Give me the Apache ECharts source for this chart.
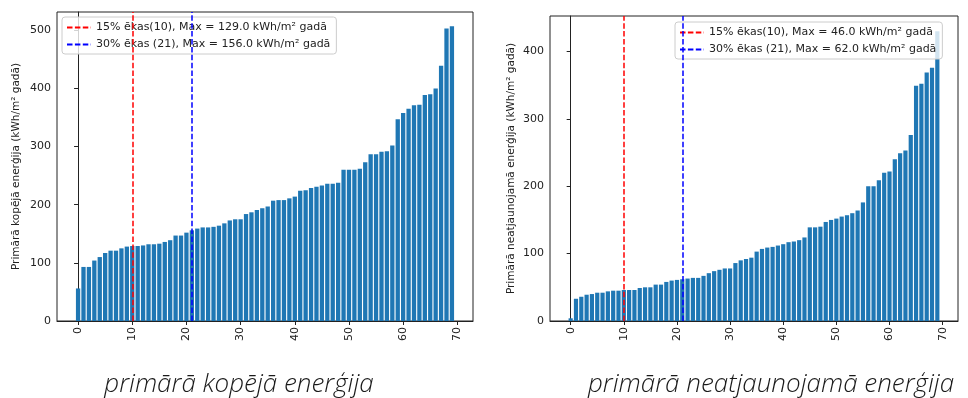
<!DOCTYPE html>
<html>
<head>
<meta charset="utf-8">
<script src="https://cdn.jsdelivr.net/npm/echarts@6/dist/echarts.min.js"></script>
<style>
  html, body { margin: 0; padding: 0; background: #fff; }
  #chart { width: 968px; height: 398px; }
</style>
</head>
<body>
<div id="chart"></div>
<script>
// ēku indeksi (sakārtoti pēc enerģijas)
var buildings = [];
for (var i = 0; i < 70; i++) buildings.push(i);

// primārā kopējā enerģija, kWh/m² gadā
var totalEnergy = [
  56, 93, 93, 104, 110, 117, 121, 121, 125, 128,
  129, 129, 130, 132, 132, 133, 136, 139, 147, 147,
  152, 156, 159, 161, 161, 162, 164, 168, 173, 175,
  175, 184, 187, 191, 194, 197, 207, 208, 208, 211,
  214, 224, 225, 229, 231, 233, 236, 236, 238, 260,
  260, 260, 262, 273, 287, 287, 291, 292, 302, 347,
  358, 365, 371, 372, 389, 390, 400, 439, 503, 507
];

// primārā neatjaunojamā enerģija, kWh/m² gadā
var nonRenewable = [
  4, 33, 36, 39, 40, 42, 42, 44, 45, 45,
  46, 46, 46, 49, 50, 50, 54, 54, 58, 60,
  61, 62, 63, 64, 64, 67, 71, 74, 76, 78,
  78, 86, 90, 92, 94, 103, 107, 109, 110, 112,
  114, 117, 118, 120, 124, 139, 139, 140, 147, 150,
  152, 155, 157, 160, 164, 176, 200, 200, 209, 220,
  222, 240, 249, 253, 276, 349, 352, 369, 376, 430
];

var xTicks = [0, 10, 20, 30, 40, 50, 60, 70];
var leftYTicks = [0, 100, 200, 300, 400, 500];
var rightYTicks = [0, 100, 200, 300, 400];

var mark15 = 10, mark30 = 21;
var legendLeft = ['15% ēkas(10), Max = 129.0 kWh/m² gadā', '30% ēkas (21), Max = 156.0 kWh/m² gadā'];
var legendRight = ['15% ēkas(10), Max = 46.0 kWh/m² gadā', '30% ēkas (21), Max = 62.0 kWh/m² gadā'];

var font = 'DejaVu Sans';
var barColor = '#1f77b4';

function pairs(vals) {
  return buildings.map(function (b, i) { return [b, vals[i]]; });
}

function xAxis(idx) {
  return {
    type: 'value', gridIndex: idx, min: -3.89, max: 72.89,
    splitLine: { show: false },
    axisLine: { show: true, lineStyle: { color: '#222', width: 1 } },
    axisTick: { show: true, length: 4, customValues: xTicks, lineStyle: { color: '#222' } },
    axisLabel: { customValues: xTicks, rotate: 90, margin: 6, color: '#222', fontSize: 11, fontFamily: font }
  };
}

function yAxis(idx, max, ticks, name, gap) {
  return {
    type: 'value', gridIndex: idx, min: 0, max: max,
    name: name, nameLocation: 'middle', nameRotate: 90, nameGap: gap,
    nameTextStyle: { fontSize: 10.5, fontFamily: font, color: '#222' },
    splitLine: { show: false },
    axisLine: { show: true, lineStyle: { color: '#222', width: 1 } },
    axisTick: { show: true, length: 4, customValues: ticks, lineStyle: { color: '#222' } },
    axisLabel: { customValues: ticks, margin: 6, color: '#222', fontSize: 11, fontFamily: font }
  };
}

function markSeries(name, idx, x, color) {
  return {
    name: name, type: 'line', xAxisIndex: idx, yAxisIndex: idx, data: [],
    symbol: 'none', color: color,
    itemStyle: { opacity: 0 },
    lineStyle: { color: color, type: [5.5, 2.4], width: 1.5 },
    markLine: {
      silent: true, symbol: 'none', label: { show: false },
      lineStyle: { color: color, type: [5.5, 2.4], width: 1.5 },
      data: [{ xAxis: x }]
    }
  };
}

function legend(names, left, top) {
  return {
    data: names, orient: 'vertical', left: left, top: top,
    padding: [5, 6, 4, 4], itemGap: 6, itemWidth: 24, itemHeight: 11,
    itemStyle: { opacity: 0 },
    backgroundColor: 'rgba(255,255,255,0.8)', borderColor: '#ccc', borderWidth: 1, borderRadius: 3,
    textStyle: { fontSize: 11, fontFamily: font, color: '#222' }
  };
}

var captionStyle = {
  textAlign: 'center', textVerticalAlign: 'middle',
  fontSize: 26, fontStyle: 'italic', fontWeight: 300, fontFamily: 'Open Sans', fill: '#1a1a1a'
};

var myChart = echarts.init(document.getElementById('chart'));
var option = {
  animation: false,
  grid: [
    { left: 57, top: 12, width: 416, height: 309, show: true, borderColor: '#222', borderWidth: 1 },
    { left: 550, top: 16, width: 408, height: 305, show: true, borderColor: '#222', borderWidth: 1 }
  ],
  xAxis: [xAxis(0), xAxis(1)],
  yAxis: [
    yAxis(0, 531.6, leftYTicks, 'Primārā kopējā enerģija (kWh/m² gadā)', 35),
    yAxis(1, 452.7, rightYTicks, 'Primārā neatjaunojamā enerģija (kWh/m² gadā)', 33)
  ],
  legend: [legend(legendLeft, 62, 17), legend(legendRight, 675, 22)],
  series: [
    { type: 'bar', xAxisIndex: 0, yAxisIndex: 0, barWidth: 4.3, itemStyle: { color: barColor }, data: pairs(totalEnergy) },
    { type: 'bar', xAxisIndex: 1, yAxisIndex: 1, barWidth: 4.2, itemStyle: { color: barColor }, data: pairs(nonRenewable) },
    markSeries(legendLeft[0], 0, mark15, '#ff0000'),
    markSeries(legendLeft[1], 0, mark30, '#0000ff'),
    markSeries(legendRight[0], 1, mark15, '#ff0000'),
    markSeries(legendRight[1], 1, mark30, '#0000ff')
  ],
  graphic: [
    { type: 'text', x: 239, y: 385, style: Object.assign({ text: 'primārā kopējā enerģija' }, captionStyle) },
    { type: 'text', x: 771, y: 385, style: Object.assign({ text: 'primārā neatjaunojamā enerģija' }, captionStyle) }
  ]
};
myChart.setOption(option);
</script>
</body>
</html>
